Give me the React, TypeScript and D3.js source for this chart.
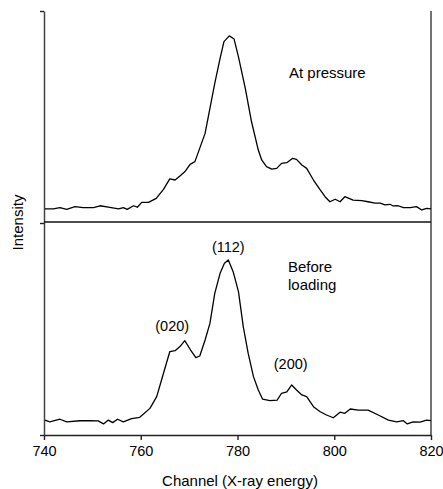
import { useEffect, useRef } from "react";
import * as d3 from "d3";

// top panel: "At pressure"
const topChannels = [
  740.2, 741.9, 743.3, 744.7, 746.4, 748.1, 750.2, 751.6, 753.3, 755.4, 756.4, 757.2, 758.5, 759.3,
  760.2, 761.6, 763.2, 764.7, 766.0, 767.1, 768.1, 769.1, 770.2, 771.2, 773.3, 774.3, 775.3, 776.4,
  777.2, 778.3, 779.3, 780.2, 781.6, 782.9, 784.3, 785.0, 786.0, 787.1, 788.1, 789.1, 790.2, 791.4,
  792.2, 793.3, 794.3, 795.7, 797.1, 798.1, 799.1, 800.2, 801.2, 802.2, 803.9, 805.7, 807.0, 808.4,
  809.5, 810.5, 811.5, 812.2, 813.2, 814.3, 815.7, 817.0, 818.1, 819.1, 820.0,
];
const atPressure = [
  6.2, 6.2, 6.8, 6.0, 7.3, 6.8, 6.8, 7.7, 7.0, 6.2, 6.8, 6.0, 7.7, 7.0,
  9.3, 9.3, 11.2, 15.5, 20.4, 19.9, 21.8, 23.8, 27.3, 28.6, 42.0, 53.9, 65.7, 77.6,
  85.5, 88.2, 86.7, 78.3, 63.4, 47.5, 34.1, 29.4, 26.2, 25.1, 25.4, 27.8, 28.1, 30.2,
  29.7, 27.0, 25.4, 19.9, 15.2, 12.0, 9.6, 10.8, 9.6, 12.0, 10.4, 10.1, 9.6, 8.9,
  8.9, 8.1, 8.4, 7.6, 7.7, 6.8, 6.8, 7.3, 5.7, 6.5, 6.2,
];

// bottom panel: "Before loading"
const bottomChannels = [
  740.2, 741.2, 743.3, 744.7, 747.4, 749.5, 751.2, 752.3, 753.3, 754.2, 755.2, 756.4, 758.1, 759.8,
  761.9, 763.3, 764.7, 766.0, 767.1, 768.1, 769.1, 770.3, 771.4, 772.2, 773.3, 774.3, 775.3, 776.4,
  777.3, 778.1, 779.1, 780.2, 781.2, 782.2, 783.3, 784.3, 785.2, 786.7, 788.2, 789.1, 790.2, 791.2,
  792.2, 793.3, 794.3, 795.7, 797.1, 798.4, 799.8, 801.2, 802.2, 803.3, 805.0, 807.0, 809.1, 811.2,
  812.9, 814.3, 815.1, 816.3, 817.7, 819.1, 820.0,
];
const beforeLoading = [
  7.0, 6.2, 7.4, 6.2, 6.7, 6.7, 6.6, 5.2, 7.0, 5.8, 7.4, 6.2, 7.7, 8.3,
  12.5, 18.0, 29.0, 39.1, 39.6, 41.5, 44.3, 39.9, 36.3, 37.1, 44.6, 52.4, 66.5, 75.9,
  80.6, 82.2, 76.7, 67.3, 50.8, 38.4, 27.4, 21.1, 16.8, 16.1, 16.4, 19.6, 20.3, 23.5,
  21.1, 18.8, 18.0, 13.3, 10.9, 9.4, 8.1, 10.7, 10.2, 12.2, 11.7, 11.7, 9.4, 7.0,
  6.2, 6.7, 5.2, 6.2, 6.0, 7.0, 6.7,
];

const xTicks = [740, 760, 780, 800, 820];
// reflection labels, placed in data units of the bottom panel
const peakLabels = [
  { text: "(020)", channel: 766.5, value: 49 },
  { text: "(112)", channel: 778.1, value: 86 },
  { text: "(200)", channel: 791.0, value: 31 },
];

const App = () => {
  const svgRef = useRef<SVGSVGElement>(null);

  useEffect(() => {
    const w = 443;
    const h = 489;
    const left = 44, right = 431, top = 11, mid = 222, bottom = 435;
    const font = "'Liberation Sans', Arial, Helvetica, sans-serif";

    const svg = d3.select(svgRef.current).attr("width", w).attr("height", h);
    svg.selectAll("*").remove();

    const x = d3.scaleLinear().domain([740, 820]).range([left, right]);
    const yTop = d3.scaleLinear().domain([0, 100]).range([mid, top]);
    const yBot = d3.scaleLinear().domain([0, 100]).range([bottom, mid]);
    const yFrame = d3.scaleLinear().domain([0, 2]).range([bottom, top]);

    // bottom axis
    const xAxis = d3.axisBottom(x).tickValues(xTicks).tickSize(5).tickSizeOuter(0).tickPadding(6);
    const gx = svg.append("g").attr("transform", `translate(0, ${bottom})`).call(xAxis);
    gx.select(".domain").attr("stroke", "#222").attr("stroke-width", 1.4);
    gx.selectAll(".tick line").attr("stroke", "#222").attr("stroke-width", 1.4);
    gx.selectAll(".tick text")
      .attr("font-family", font)
      .attr("font-size", 14.5)
      .attr("fill", "#000");

    // left axis, ticks only at panel edges
    const yAxis = d3.axisLeft(yFrame).tickValues([0, 1, 2]).tickSize(4).tickSizeOuter(0).tickFormat(() => "");
    const gy = svg.append("g").attr("transform", `translate(${left}, 0)`).call(yAxis);
    gy.select(".domain").attr("stroke", "#444").attr("stroke-width", 1.5);
    gy.selectAll(".tick line").attr("stroke", "#222").attr("stroke-width", 1.4);

    // right frame line and panel divider
    svg.append("line")
      .attr("x1", right).attr("x2", right).attr("y1", top).attr("y2", bottom)
      .attr("stroke", "#444").attr("stroke-width", 1.5);
    svg.append("line")
      .attr("x1", left).attr("x2", right).attr("y1", mid).attr("y2", mid)
      .attr("stroke", "#111").attr("stroke-width", 1.4);

    // curves
    const topLine = d3.line<number>()
      .x((_, i) => x(topChannels[i]))
      .y((d) => yTop(d));
    const botLine = d3.line<number>()
      .x((_, i) => x(bottomChannels[i]))
      .y((d) => yBot(d));

    svg.append("path")
      .datum(atPressure)
      .attr("fill", "none")
      .attr("stroke", "#000")
      .attr("stroke-width", 1.3)
      .attr("stroke-linejoin", "round")
      .attr("d", topLine);
    svg.append("path")
      .datum(beforeLoading)
      .attr("fill", "none")
      .attr("stroke", "#000")
      .attr("stroke-width", 1.3)
      .attr("stroke-linejoin", "round")
      .attr("d", botLine);

    // peak labels
    svg.append("g")
      .selectAll("text")
      .data(peakLabels)
      .join("text")
      .attr("x", (d) => x(d.channel))
      .attr("y", (d) => yBot(d.value))
      .attr("text-anchor", "middle")
      .attr("font-family", font)
      .attr("font-size", 14.5)
      .text((d) => d.text);

    // panel labels
    const texts = svg.append("g").attr("font-family", font).attr("font-size", 15).attr("fill", "#000");
    texts.append("text").attr("x", 289).attr("y", 78).text("At pressure");
    texts.append("text").attr("x", 288).attr("y", 272).text("Before");
    texts.append("text").attr("x", 288).attr("y", 290).text("loading");

    // axis titles
    texts.append("text")
      .attr("x", 240).attr("y", 486)
      .attr("text-anchor", "middle")
      .text("Channel (X-ray energy)");
    texts.append("text")
      .attr("transform", `translate(22.5, 222.5) rotate(-90)`)
      .attr("text-anchor", "middle")
      .text("Intensity");
  }, []);

  return (
    <div style={{ position: "absolute", left: 0, top: 0 }}>
      <svg ref={svgRef} style={{ display: "block" }}></svg>
    </div>
  );
};

export default App;
